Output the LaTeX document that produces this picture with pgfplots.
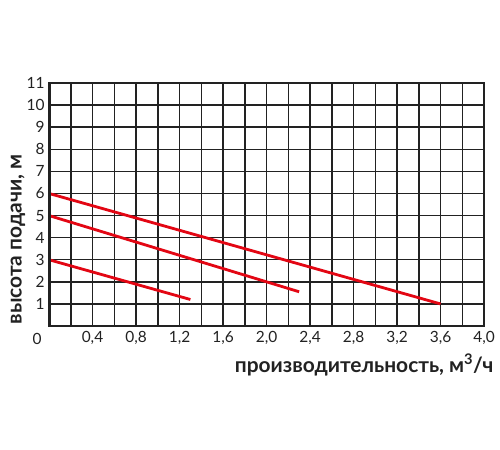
\documentclass[border=0pt]{standalone}
\usepackage{fontspec}
\setmainfont{Lato}
\usepackage{pgfplots}
\pgfplotsset{compat=1.18}
\definecolor{curvered}{HTML}{E30613}
\definecolor{gridk}{HTML}{222222}
\begin{document}
\begin{tikzpicture}[x=1bp,y=1bp]
\path[use as bounding box, fill=white] (0,0) rectangle (500,-450);
\begin{axis}[
  at={(49bp,-326bp)}, anchor=south west,
  width=435bp, height=243bp, scale only axis,
  xmin=0, xmax=4, ymin=0, ymax=11,
  xtick={0.4,0.8,1.2,1.6,2.0,2.4,2.8,3.2,3.6,4.0},
  xticklabels={{0,4},{0,8},{1,2},{1,6},{2,0},{2,4},{2,8},{3,2},{3,6},{4,0}},
  minor xtick={0.2,0.6,1.0,1.4,1.8,2.2,2.6,3.0,3.4,3.8},
  ytick={1,2,3,4,5,6,7,8,9,10,11},
  yticklabels={1,2,3,4,5,6,7,8,9,10,11},
  grid=both,
  major grid style={draw=gridk, line width=1.5bp},
  minor grid style={draw=gridk, line width=1.5bp},
  axis line style={draw=gridk, line width=2bp},
  major tick length=0pt, minor tick length=0pt,
  tick label style={font=\fontsize{15.5}{17}\selectfont, text=gridk},
  xticklabel style={yshift=-2bp},
  yticklabel style={xshift=-1bp},
]
\addplot[curvered, line width=2.8bp] coordinates {(0,6) (3.6,1.0)};
\addplot[curvered, line width=2.8bp] coordinates {(0,5) (2.3,1.55)};
\addplot[curvered, line width=2.8bp] coordinates {(0,3) (1.3,1.2)};
\draw[gridk, line width=3bp] (rel axis cs:0,1) -- (rel axis cs:0,0) -- (rel axis cs:1,0);
\end{axis}
\node[font=\fontsize{15.5}{17}\selectfont, text=gridk] at (37,-339) {0};
\node[anchor=east, font=\fontsize{21}{23}\bfseries\selectfont, text=gridk] at (497,-365) {производительность, м\textsuperscript{3}/ч};
\node[rotate=90, anchor=west, font=\fontsize{21}{23}\bfseries\selectfont, text=gridk] at (18,-328) {высота подачи, м};
\end{tikzpicture}
\end{document}
